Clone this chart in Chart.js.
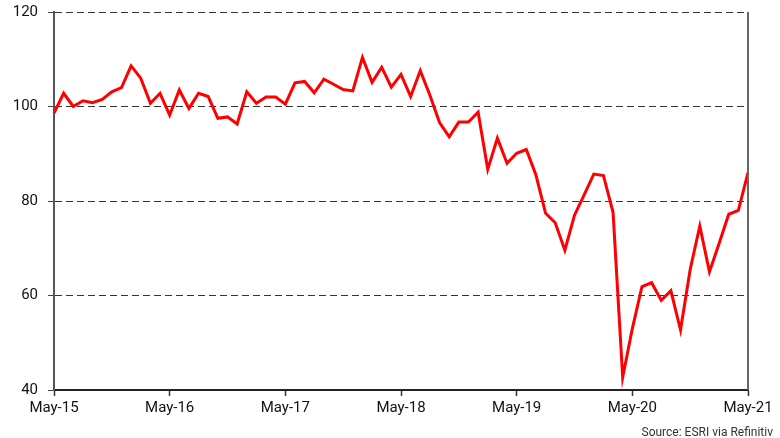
<!DOCTYPE html>
<html lang="en">
<head>
    <meta charset="UTF-8">
    <title>Sentiment index</title>
    <style>
      html, body { margin: 0; padding: 0; background: #fff; }
      .chart-container { position: relative; width: 780px; height: 438px; }
    </style>
</head>
<body>
    <div class="chart-container">
      <canvas id="myChart" width="780" height="438"></canvas>
    </div>

    <script src="https://cdn.jsdelivr.net/npm/chart.js"></script>
    <script>
      // monthly readings, May-15 .. May-21
      var years = ['15', '16', '17', '18', '19', '20', '21'];
      var monthNames = ['Jan','Feb','Mar','Apr','May','Jun','Jul','Aug','Sep','Oct','Nov','Dec'];
      var values = [
        98.6, 102.8, 100.0, 101.2, 100.8, 101.5, 103.1, 104.0, 108.6, 106.0, 100.7, 102.8,
        98.2, 103.5, 99.6, 102.8, 102.1, 97.5, 97.8, 96.3, 103.1, 100.7, 102.0, 102.0,
        100.5, 105.0, 105.3, 102.9, 105.8, 104.7, 103.6, 103.3, 110.4, 105.1, 108.3, 104.1,
        106.8, 102.1, 107.6, 102.4, 96.6, 93.6, 96.7, 96.7, 98.8, 86.7, 93.3, 88.0,
        90.1, 90.9, 85.5, 77.4, 75.4, 69.6, 77.0, 81.3, 85.7, 85.4, 77.6, 42.7,
        53.0, 61.9, 62.7, 59.0, 61.0, 52.7, 65.5, 74.7, 65.0, 71.0, 77.2, 78.0,
        86.0
      ];
      var yTicks = [40, 60, 80, 100, 120];
      var sourceText = 'Source: ESRI via Refinitiv';

      // category labels: May of first year onwards
      var labels = [];
      for (var i = 0; i < values.length; i++) {
        var m = (4 + i) % 12;
        var y = years[0] * 1 + Math.floor((4 + i) / 12);
        labels.push(monthNames[m] + '-' + y);
      }

      var fontFamily = "'Liberation Sans Narrow', Roboto, 'DejaVu Sans Condensed', sans-serif";

      var framePlugin = {
        id: 'frame',
        afterDraw: function (chart) {
          var ctx = chart.ctx, a = chart.chartArea;
          ctx.save();
          // right border
          ctx.strokeStyle = '#666';
          ctx.lineWidth = 2;
          ctx.beginPath();
          ctx.moveTo(a.right, a.top);
          ctx.lineTo(a.right, a.bottom);
          ctx.stroke();
          // source note
          ctx.fillStyle = '#333';
          ctx.font = '12px ' + fontFamily;
          ctx.textAlign = 'right';
          ctx.textBaseline = 'alphabetic';
          ctx.fillText(sourceText, 773, 436);
          ctx.restore();
        }
      };

      var ctx = document.getElementById('myChart').getContext('2d');
      var myChart = new Chart(ctx, {
        type: 'line',
        data: {
          labels: labels,
          datasets: [{
            data: values,
            borderColor: '#ff0000',
            borderWidth: 3,
            pointRadius: 0,
            tension: 0,
            fill: false
          }]
        },
        options: {
          responsive: false,
          animation: false,
          layout: { padding: { top: 12, right: 32, left: 0, bottom: 0 } },
          plugins: { legend: { display: false }, tooltip: { enabled: false } },
          scales: {
            x: {
              offset: false,
              afterFit: function (scale) { scale.height = 48; },
              grid: { drawOnChartArea: false, drawTicks: true, tickLength: 6, tickColor: '#333', tickWidth: 1.5 },
              border: { display: true, color: '#222', width: 2 },
              ticks: {
                autoSkip: false,
                maxRotation: 0,
                padding: 3,
                color: '#111',
                font: { size: 15, family: fontFamily },
                callback: function (val, idx) {
                  return idx % 12 === 0 ? labels[idx] : null;
                }
              }
            },
            y: {
              min: 40,
              max: 120,
              afterFit: function (scale) {
                scale.width = 54;
                scale.paddingTop = 0;
                scale.paddingBottom = 0;
              },
              afterBuildTicks: function (scale) {
                scale.ticks = yTicks.map(function (v) { return { value: v }; });
              },
              grid: {
                color: function (c) { return c.tick && c.tick.value === 40 ? 'rgba(0,0,0,0)' : '#333'; },
                lineWidth: 1,
                drawTicks: true,
                tickLength: 6,
                tickColor: '#444'
              },
              border: { display: true, color: '#555', width: 2, dash: [7, 4] },
              ticks: {
                padding: 10,
                color: '#111',
                font: { size: 15, family: fontFamily }
              }
            }
          }
        },
        plugins: [framePlugin]
      });
    </script>
</body>
</html>
